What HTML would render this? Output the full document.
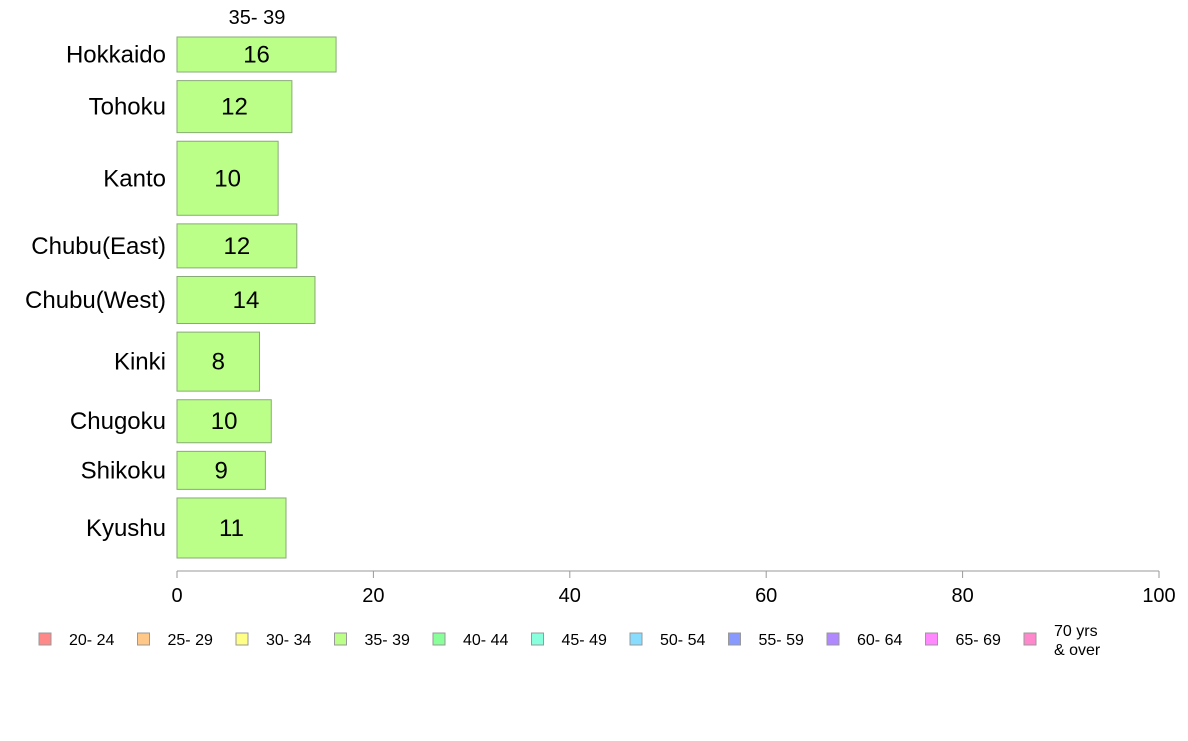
<!DOCTYPE html>
<html><head><meta charset="utf-8"><style>
body{margin:0;background:#fff;font-family:"Liberation Sans",sans-serif;}
svg text{font-family:"Liberation Sans",sans-serif;}
</style></head><body>
<svg id="chart" width="1188" height="736">
<text x="257" y="24" font-size="20" text-anchor="middle" fill="#000">35- 39</text>
<g id="bars"></g>
<g id="axis"></g>
<g id="legend"></g>
</svg>
<script>
const regions=["Hokkaido","Tohoku","Kanto","Chubu(East)","Chubu(West)","Kinki","Chugoku","Shikoku","Kyushu"];
const values=[16.2,11.7,10.3,12.2,14.05,8.4,9.6,9.0,11.1];
const labels=["16","12","10","12","14","8","10","9","11"];
const weights=[35,52,74,44,47,59,43,38,60];
const ticks=[0,20,40,60,80,100];
const legendLabels=["20- 24","25- 29","30- 34","35- 39","40- 44","45- 49","50- 54","55- 59","60- 64","65- 69","70 yrs\n& over"];
const legendColors=["#ff8888","#ffc888","#ffff88","#bbff88","#88ff98","#88ffdd","#88ddff","#8899ff","#b088ff","#ff88ff","#ff88cc"];
const NS="http://www.w3.org/2000/svg";
const x0=177,x1=1159,yTop=37,yBot=558;
const xs=v=>x0+(x1-x0)*v/100;
const gap=8.6;
const totalW=weights.reduce((a,b)=>a+b,0);
const scaleH=(yBot-yTop-gap*(weights.length-1))/totalW;
function mk(t,a){const e=document.createElementNS(NS,t);for(const k in a)e.setAttribute(k,a[k]);return e;}
const bars=document.getElementById('bars');
let y=yTop;
regions.forEach((r,i)=>{
 const h=weights[i]*scaleH;
 const rect=mk('rect',{x:x0,y:y,width:xs(values[i])-x0,height:h,fill:"#bbff88",stroke:"#88aa77","stroke-width":1});
 
 
 bars.appendChild(rect);
 const lab=mk('text',{x:(x0+xs(values[i]))/2,y:y+h/2+8,"font-size":24,"text-anchor":"middle",fill:"#000"});
 lab.textContent=labels[i];
 
 
 bars.appendChild(lab);
 const cat=mk('text',{x:166,y:y+h/2+8,"font-size":24,"text-anchor":"end",fill:"#000"});
 cat.textContent=r;
 
 
 bars.appendChild(cat);
 y+=h+gap;
});
const axis=document.getElementById('axis');
const line=mk('line',{x1:x0,x2:x1,y1:571,y2:571,stroke:"#999","stroke-width":1});


axis.appendChild(line);
ticks.forEach(t=>{
 const tl=mk('line',{x1:xs(t),x2:xs(t),y1:571,y2:578,stroke:"#999","stroke-width":1});
 
 
 axis.appendChild(tl);
 const tx=mk('text',{x:xs(t),y:602,"font-size":20,"text-anchor":"middle",fill:"#000"});
 tx.textContent=t;
 
 
 axis.appendChild(tx);
});
const lg=document.getElementById('legend');
legendLabels.forEach((l,i)=>{
 const lx=39+i*98.5;
 const sq=mk('rect',{x:lx,y:633,width:12,height:12,fill:legendColors[i],stroke:"#999","stroke-width":1});
 
 
 lg.appendChild(sq);
 const parts=l.split("\n");
 parts.forEach((p,j)=>{
  const tx=mk('text',{x:lx+30,y:(parts.length>1?636+j*19:645),"font-size":16,fill:"#000"});
  tx.textContent=p;
  
  
  lg.appendChild(tx);
 });
});
</script>
</body></html>
